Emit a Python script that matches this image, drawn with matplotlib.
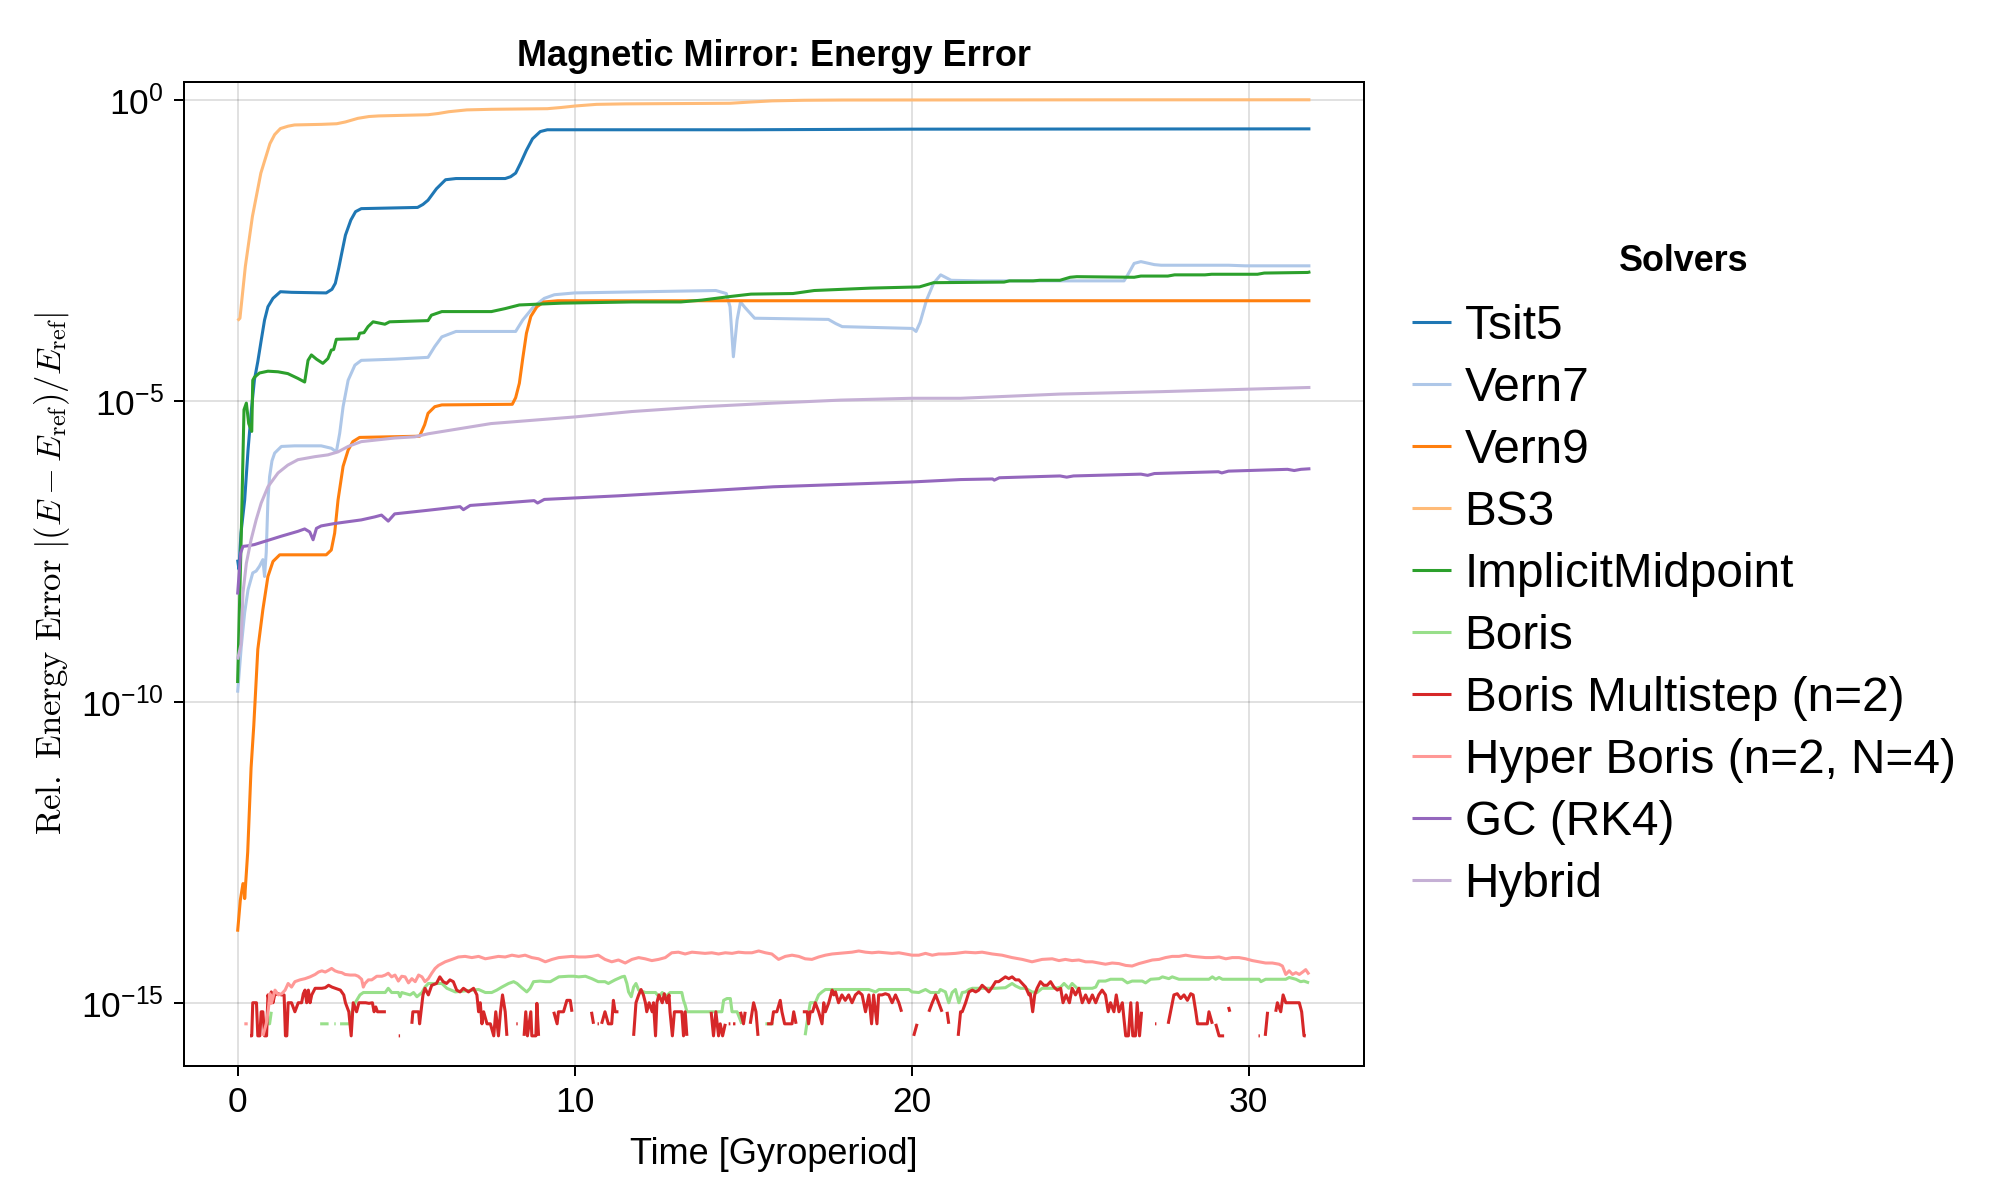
import numpy as np
import matplotlib
matplotlib.use("Agg")
import matplotlib.pyplot as plt
from matplotlib.ticker import FixedLocator, FixedFormatter, NullLocator

nan = float("nan")

plt.rcParams['font.family'] = ['Liberation Sans', 'DejaVu Sans']
plt.rcParams['mathtext.fontset'] = 'cm'

# ---------------- data (time in gyroperiods, log10 of relative energy error) ----------------
solvers = ["Tsit5", "Vern7", "Vern9", "BS3", "ImplicitMidpoint", "Boris",
           "Boris Multistep (n=2)", "Hyper Boris (n=2, N=4)", "GC (RK4)", "Hybrid"]
colors = ["#1f77b4", "#aec7e8", "#ff7f0e", "#ffbb78", "#2ca02c", "#98df8a",
          "#d62728", "#ff9896", "#9467bd", "#c5b0d5"]

tsit5_t = [0.0, 0.04, 0.1, 0.21, 0.31, 0.41, 0.5, 0.6, 0.7, 0.8, 0.9, 1.05, 1.27, 1.6, 2.63, 2.8, 2.9,
           3.0, 3.09, 3.2, 3.36, 3.5, 3.67, 5.34, 5.5, 5.65, 5.9, 6.17, 6.48, 7.94, 8.1, 8.25, 8.4,
           8.57, 8.75, 8.98, 9.19, 15.0, 20.0, 31.83]
tsit5_log10 = [-7.64, -7.8, -7.2, -6.65, -5.82, -5.15, -4.65, -4.35, -4.0, -3.66, -3.44, -3.3, -3.19,
               -3.2, -3.21, -3.15, -3.05, -2.8, -2.55, -2.25, -2.0, -1.86, -1.81, -1.79, -1.74, -1.67,
               -1.48, -1.33, -1.31, -1.31, -1.28, -1.22, -1.05, -0.84, -0.65, -0.53, -0.50, -0.50,
               -0.49, -0.485]

vern7_t = [0.0, 0.11, 0.21, 0.31, 0.45, 0.55, 0.65, 0.75, 0.8, 0.85, 0.9, 0.95, 1.02, 1.1, 1.3, 1.69,
           2.48, 2.78, 2.93, 3.03, 3.13, 3.28, 3.48, 3.67, 4.66, 5.65, 5.85, 6.06, 6.48, 8.25, 8.46,
           8.78, 9.1, 9.4, 10.0, 14.19, 14.5, 14.61, 14.71, 14.82, 14.92, 15.05, 15.34, 17.53, 17.75,
           17.94, 20.02, 20.13, 20.25, 20.44, 20.65, 20.86, 21.17, 22.0, 26.3, 26.4, 26.6, 26.8, 27.2,
           27.4, 29.4, 29.9, 31.83]
vern7_log10 = [-9.85, -9.08, -8.52, -8.14, -7.86, -7.83, -7.75, -7.64, -7.92, -7.52, -6.65, -6.26,
               -6.0, -5.87, -5.76, -5.75, -5.75, -5.79, -5.85, -5.54, -5.1, -4.66, -4.41, -4.33,
               -4.31, -4.28, -4.1, -3.94, -3.85, -3.85, -3.66, -3.44, -3.3, -3.24, -3.21, -3.17,
               -3.22, -3.44, -4.27, -3.66, -3.36, -3.45, -3.63, -3.65, -3.72, -3.77, -3.80, -3.85,
               -3.7, -3.33, -3.05, -2.91, -3.0, -3.01, -3.01, -2.92, -2.72, -2.69, -2.74, -2.75,
               -2.75, -2.76, -2.76]

vern9_t = [0.0, 0.08, 0.16, 0.2, 0.21, 0.3, 0.4, 0.48, 0.6, 0.75, 0.9, 1.05, 1.25, 2.63, 2.78, 2.88,
           2.98, 3.13, 3.28, 3.42, 3.62, 5.4, 5.55, 5.65, 5.85, 6.06, 8.15, 8.25, 8.36, 8.46, 8.57,
           8.7, 8.88, 9.09, 9.5, 31.83]
vern9_log10 = [-13.82, -13.3, -13.02, -13.05, -13.27, -12.5, -11.1, -10.4, -9.13, -8.47, -7.92,
               -7.67, -7.56, -7.56, -7.48, -7.2, -6.65, -6.09, -5.82, -5.68, -5.61, -5.59, -5.4,
               -5.21, -5.1, -5.07, -5.06, -4.95, -4.71, -4.3, -3.88, -3.6, -3.44, -3.36, -3.34, -3.34]

bs3_t = [0.0, 0.07, 0.23, 0.44, 0.69, 0.96, 1.1, 1.27, 1.5, 1.69, 2.5, 2.94, 3.2, 3.57, 3.9, 4.19,
         5.65, 5.95, 6.27, 6.8, 7.53, 9.19, 9.6, 10.02, 10.65, 11.5, 14.61, 15.2, 15.86, 16.8,
         17.94, 25.0, 31.83]
bs3_log10 = [-3.67, -3.63, -2.77, -1.94, -1.22, -0.73, -0.58, -0.48, -0.44, -0.42, -0.41, -0.40,
             -0.37, -0.31, -0.28, -0.27, -0.25, -0.23, -0.20, -0.17, -0.16, -0.15, -0.13, -0.105,
             -0.078, -0.07, -0.06, -0.04, -0.02, -0.01, -0.006, -0.003, -0.002]

midpoint_t = [0.0, 0.11, 0.19, 0.26, 0.33, 0.42, 0.45, 0.5, 0.65, 0.9, 1.2, 1.49, 1.79, 1.99, 2.09,
              2.19, 2.34, 2.53, 2.68, 2.78, 2.85, 2.93, 3.57, 3.62, 3.75, 3.87, 4.02, 4.37, 4.51,
              5.65, 5.75, 6.06, 7.53, 7.94, 8.36, 9.61, 11.69, 13.15, 13.77, 14.61, 15.23, 16.48,
              17.11, 18.78, 20.23, 20.65, 22.74, 22.9, 23.6, 23.8, 24.4, 24.7, 24.9, 26.6, 26.8,
              27.6, 27.8, 28.7, 28.9, 30.26, 30.46, 31.75, 31.83]
midpoint_log10 = [-9.69, -7.2, -5.15, -5.04, -5.38, -5.51, -4.66, -4.61, -4.54, -4.51, -4.52, -4.55,
                  -4.63, -4.69, -4.33, -4.24, -4.31, -4.38, -4.3, -4.16, -4.15, -3.98, -3.97, -3.88,
                  -3.87, -3.77, -3.69, -3.73, -3.69, -3.67, -3.58, -3.52, -3.52, -3.47, -3.41,
                  -3.38, -3.36, -3.36, -3.33, -3.27, -3.23, -3.22, -3.17, -3.13, -3.11, -3.04,
                  -3.03, -3.01, -3.01, -3.0, -3.0, -2.95, -2.94, -2.95, -2.93, -2.93, -2.91, -2.91,
                  -2.9, -2.9, -2.88, -2.87, -2.86]

boris_t = [0.75, 0.95, 1.0, 1.1, 2.45, 2.7, 2.8, 2.87, 2.91, 2.95, 3.04, 3.34, 3.39, 3.49, 3.63,
           3.73, 4.38, 4.47, 4.57, 4.77, 4.82, 4.87, 5.12, 5.22, 5.32, 5.47, 5.56, 5.66, 6.06, 6.21,
           6.46, 7.15, 7.35, 7.54, 7.69, 7.84, 8.04, 8.19, 8.29, 8.43, 8.58, 8.68, 8.78, 8.98, 9.13,
           9.28, 9.53, 9.82, 9.97, 10.12, 10.32, 10.51, 10.7, 10.9, 11.0, 11.2, 11.4, 11.48, 11.55,
           11.6, 11.68, 11.75, 11.82, 11.9, 12.1, 12.4, 12.5, 12.6, 12.7, 12.83, 13.18, 13.23,
           13.28, 13.33, 14.02, 14.37, 14.42, 14.52, 14.62, 14.67, 14.82, 14.96, 15.2, 15.66,
           15.9, 16.2, 16.84, 16.89, 16.99, 17.14, 17.24, 17.34, 17.44, 18.73, 18.93, 19.03,
           19.92, 20.01, 20.21, 20.41, 20.56, 20.8, 20.85, 21.0, 21.1, 21.2, 21.3, 21.4, 21.5,
           21.6, 21.7, 21.8, 22.49, 22.78, 22.98, 23.08, 23.23, 23.38, 23.57, 23.72, 23.87, 24.27,
           24.42, 24.52, 24.66, 24.76, 24.91, 25.36, 25.46, 25.55, 25.75, 25.9, 26.25, 26.4,
           26.54, 26.84, 26.94, 27.09, 27.34, 27.44, 27.63, 27.73, 27.93, 28.82, 28.92, 29.02,
           29.12, 29.22, 30.31, 30.36, 30.5, 31.1, 31.2, 31.4, 31.54, 31.64, 31.79]
boris_log10 = [-15.35, -15.35, -15.15, nan, -15.35, -15.35, nan, -15.35, -15.35, nan, -15.35,
               -15.35, -15.15, -15.0, -14.87, -14.83, -14.83, -14.76, -14.83, -14.83, -14.9,
               -14.83, -14.87, -14.83, -14.9, -14.83, -14.74, -14.68, -14.68, -14.76, -14.82,
               -14.78, -14.83, -14.83, -14.79, -14.74, -14.68, -14.65, -14.68, -14.75, -14.82,
               -14.76, -14.65, -14.64, -14.65, -14.65, -14.57, -14.56, -14.56, -14.57, -14.56,
               -14.6, -14.65, -14.65, -14.68, -14.62, -14.57, -14.56, -14.68, -14.82, -14.9,
               -14.74, -14.68, -14.79, -14.83, -14.83, -14.9, -14.83, -14.9, -14.83, -14.83,
               -14.96, -15.04, -15.15, -15.15, -15.15, -14.96, -14.93, -14.93, -15.15, -15.15,
               -15.35, nan, -15.35, -15.35, nan, -15.54, -15.35, -15.0, -15.0, -14.87, -14.82,
               -14.78, -14.78, -14.82, -14.78, -14.78, -14.82, -14.83, -14.78, -14.83, -14.83,
               -14.78, -14.82, -15.0, -14.83, -14.78, -15.0, -14.83, -14.82, -14.78, -14.76,
               -14.76, -14.75, -14.68, -14.72, -14.76, -14.76, -14.82, -14.83, -14.76, -14.76,
               -14.74, -14.68, -14.76, -14.68, -14.76, -14.76, -14.74, -14.64, -14.64, -14.61,
               -14.61, -14.67, -14.64, -14.64, -14.67, -14.61, -14.6, -14.57, -14.6, -14.57,
               -14.61, -14.61, -14.57, -14.61, -14.58, -14.61, -14.61, -14.65, -14.61, -14.61,
               -14.58, -14.61, -14.65, -14.64, -14.67]

multistep_t = [0.37, 0.42, 0.45, 0.56, 0.6, 0.66, 0.7, 0.75, 0.8, 0.86, 0.9, 0.95, 1.0, 1.05, 1.1,
               1.2, 1.3, 1.38, 1.42, 1.46, 1.5, 1.6, 1.7, 1.8, 1.9, 1.95, 2.0, 2.05, 2.1, 2.15, 2.2,
               2.3, 2.4, 2.5, 2.6, 2.7, 2.8, 2.9, 3.05, 3.15, 3.2, 3.3, 3.37, 3.43, 3.53, 3.6, 3.7,
               3.8, 3.9, 4.0, 4.05, 4.1, 4.15, 4.3, 4.4, 4.6, 4.78, 4.82, 5.0, 5.17, 5.2, 5.37, 5.4,
               5.5, 5.56, 5.66, 5.76, 5.9, 6.0, 6.1, 6.2, 6.3, 6.4, 6.5, 6.6, 6.7, 6.85, 7.0, 7.1,
               7.15, 7.2, 7.25, 7.3, 7.4, 7.5, 7.6, 7.66, 7.74, 7.8, 7.86, 7.94, 7.99, 8.1, 8.27,
               8.31, 8.4, 8.5, 8.55, 8.6, 8.7, 8.73, 8.85, 8.88, 8.93, 9.1, 9.38, 9.48, 9.52, 9.67,
               9.77, 9.87, 9.92, 10.2, 10.5, 10.56, 10.6, 10.68, 10.72, 10.75, 10.8, 10.9, 11.0,
               11.1, 11.15, 11.2, 11.3, 11.5, 11.75, 11.82, 11.9, 11.97, 12.04, 12.1, 12.14, 12.21,
               12.3, 12.34, 12.4, 12.44, 12.5, 12.6, 12.66, 12.74, 12.8, 12.83, 12.9, 12.96, 13.1,
               13.18, 13.23, 13.28, 13.33, 13.7, 14.05, 14.12, 14.19, 14.27, 14.32, 14.39, 14.47,
               14.52, 14.57, 14.62, 14.65, 14.7, 14.77, 14.85, 14.92, 15.01, 15.06, 15.12, 15.21,
               15.31, 15.38, 15.44, 15.6, 15.71, 15.85, 15.9, 16.0, 16.1, 16.15, 16.23, 16.35,
               16.45, 16.5, 16.57, 16.67, 16.77, 16.9, 16.94, 16.99, 17.06, 17.14, 17.24, 17.34,
               17.39, 17.44, 17.54, 17.64, 17.69, 17.74, 17.83, 17.93, 18.03, 18.13, 18.23, 18.33,
               18.43, 18.53, 18.63, 18.73, 18.81, 18.87, 18.97, 19.02, 19.12, 19.22, 19.32, 19.42,
               19.52, 19.62, 19.7, 19.85, 20.06, 20.16, 20.3, 20.51, 20.61, 20.71, 20.8, 20.9,
               20.97, 21.05, 21.1, 21.2, 21.38, 21.45, 21.5, 21.6, 21.7, 21.8, 21.9, 21.99, 22.09,
               22.19, 22.29, 22.39, 22.49, 22.58, 22.68, 22.78, 22.88, 22.98, 23.08, 23.18, 23.28,
               23.38, 23.48, 23.52, 23.59, 23.65, 23.72, 23.82, 23.92, 24.02, 24.12, 24.22, 24.32,
               24.42, 24.49, 24.58, 24.68, 24.76, 24.86, 24.96, 25.06, 25.16, 25.26, 25.36, 25.46,
               25.55, 25.65, 25.75, 25.83, 25.9, 26.0, 26.07, 26.15, 26.25, 26.35, 26.43, 26.5,
               26.56, 26.64, 26.69, 26.76, 26.82, 27.0, 27.22, 27.26, 27.4, 27.61, 27.68, 27.78,
               27.88, 27.98, 28.08, 28.18, 28.28, 28.35, 28.43, 28.48, 28.57, 28.67, 28.77, 28.82,
               28.92, 28.97, 29.02, 29.12, 29.27, 29.35, 29.4, 29.44, 29.6, 30.29, 30.33, 30.4,
               30.49, 30.56, 30.7, 30.8, 30.85, 30.95, 31.02, 31.1, 31.3, 31.5, 31.57, 31.64, 31.69]
multistep_log10 = [-15.55, -15.55, -15.0, -15.0, -15.55, -15.55, -15.15, -15.15, -15.55, -15.55,
                   -14.87, -15.0, -14.82, -15.0, -14.87, -14.85, -14.87, -14.87, -15.55, -15.55,
                   -15.0, -15.0, -15.15, -15.0, -15.0, -14.85, -14.79, -15.0, -14.79, -15.0,
                   -14.87, -14.76, -14.76, -14.76, -14.75, -14.71, -14.74, -14.76, -14.79, -14.87,
                   -15.0, -15.15, -15.55, -15.0, -15.15, -15.0, -15.0, -15.0, -15.01, -15.0,
                   -15.15, -15.07, -15.15, -15.15, -15.15, nan, -15.55, -15.55, nan, -15.35,
                   -15.15, -15.15, -15.35, -14.87, -14.76, -14.87, -14.71, -14.68, -14.57, -14.65,
                   -14.68, -14.62, -14.65, -14.79, -14.82, -14.76, -14.82, -14.76, -14.87, -15.15,
                   -15.0, -15.35, -15.15, -15.35, -15.35, -15.55, -15.15, -15.55, -15.15, -14.87,
                   -15.15, -15.55, nan, -15.35, -15.35, nan, -15.55, -15.15, -15.55, -15.15,
                   -15.55, -15.55, -15.01, -15.55, nan, -15.15, -15.35, -15.15, -15.15, -14.96,
                   -14.96, -15.15, nan, -15.15, -15.35, nan, -15.35, -15.35, nan, -15.35, -15.15,
                   -15.35, -15.35, -14.96, -15.15, -15.15, nan, -15.55, -15.0, -14.87, -14.78,
                   -14.87, -15.0, -15.15, -15.0, -15.15, -15.0, -15.55, -15.0, -14.87, -15.0,
                   -14.85, -15.0, -14.87, -15.15, -15.55, -15.15, -15.15, -15.15, -15.55, -15.15,
                   -15.55, nan, -15.15, -15.55, -15.15, -15.55, -15.35, -15.55, -15.35, nan,
                   -15.35, -15.35, nan, -15.35, -15.35, nan, -15.15, -15.35, -15.15, nan, -15.35,
                   -15.0, -15.15, -15.55, nan, -15.35, -15.35, -15.15, -15.15, -14.96, -15.15,
                   -15.35, -15.35, -15.35, -15.15, -15.35, nan, -15.15, -15.15, -15.35, -15.15,
                   -15.15, -15.0, -15.15, -15.35, -15.0, -15.15, -15.0, -14.79, -14.87, -14.82,
                   -15.0, -14.87, -14.96, -14.87, -15.0, -14.87, -14.82, -14.87, -15.15, -14.87,
                   -15.35, -14.87, -15.35, -14.87, -14.87, -14.85, -14.87, -15.0, -14.87, -15.0,
                   -15.15, nan, -15.55, -15.35, nan, -15.15, -15.0, -14.87, -15.0, -15.15, nan,
                   -15.15, -15.35, nan, -15.55, -15.15, -15.15, -15.0, -14.82, -14.79, -14.82,
                   -14.79, -14.71, -14.76, -14.82, -14.74, -14.65, -14.65, -14.61, -14.57, -14.6,
                   -14.57, -14.62, -14.62, -14.68, -14.74, -14.87, -14.85, -15.15, -14.87, -14.76,
                   -14.65, -14.71, -14.71, -14.65, -14.74, -14.79, -14.76, -15.0, -14.87, -15.0,
                   -14.76, -14.87, -14.76, -15.0, -14.87, -15.0, -14.87, -15.0, -14.87, -14.79,
                   -14.87, -15.15, -15.0, -15.15, -14.87, -15.15, -15.0, -15.55, -15.55, -15.0,
                   -15.55, -15.55, -15.0, -15.55, -15.15, nan, -15.35, -15.35, nan, -15.35, -15.15,
                   -14.87, -14.85, -14.93, -14.87, -14.96, -14.85, -14.87, -15.15, -15.35, -15.35,
                   -15.35, -15.35, -15.15, -15.35, nan, -15.35, -15.55, -15.55, nan, -15.07,
                   -15.15, nan, -15.55, -15.55, nan, -15.55, -15.15, nan, -15.15, -15.0, -15.15,
                   -14.87, -15.0, -15.0, -15.0, -15.15, -15.55, -15.55]

hyper_t = [0.2, 0.3, 0.5, 0.75, 0.85, 0.91, 0.96, 1.0, 1.11, 1.21, 1.31, 1.41, 1.5, 1.6, 1.7, 1.85,
           2.0, 2.15, 2.3, 2.4, 2.5, 2.6, 2.7, 2.79, 2.89, 2.99, 3.09, 3.19, 3.34, 3.49, 3.58, 3.68,
           3.73, 3.78, 3.88, 3.98, 4.13, 4.28, 4.38, 4.47, 4.57, 4.67, 4.77, 4.87, 4.97, 5.07,
           5.17, 5.27, 5.37, 5.47, 5.56, 5.66, 5.76, 5.86, 5.96, 6.16, 6.36, 6.55, 6.75, 6.95,
           7.15, 7.35, 7.54, 7.74, 7.94, 8.14, 8.34, 8.53, 8.73, 8.93, 9.13, 9.33, 9.53, 9.72,
           9.92, 10.12, 10.32, 10.51, 10.7, 10.9, 11.1, 11.3, 11.5, 11.7, 11.9, 12.09, 12.29,
           12.49, 12.69, 12.88, 13.08, 13.28, 13.48, 13.68, 13.87, 14.07, 14.27, 14.47, 14.67,
           14.86, 15.06, 15.26, 15.46, 15.66, 15.85, 16.05, 16.25, 16.45, 16.65, 16.84, 17.04,
           17.24, 17.44, 17.64, 17.83, 18.03, 18.23, 18.43, 18.63, 18.82, 19.02, 19.22, 19.42,
           19.62, 19.81, 20.01, 20.21, 20.41, 20.61, 20.8, 21.0, 21.3, 21.59, 21.89, 22.09,
           22.39, 22.68, 22.98, 23.28, 23.57, 23.87, 24.17, 24.37, 24.56, 24.76, 24.96, 25.16,
           25.36, 25.55, 25.75, 25.95, 26.15, 26.35, 26.54, 26.74, 26.94, 27.14, 27.34, 27.53,
           27.73, 27.93, 28.13, 28.33, 28.52, 28.72, 28.92, 29.12, 29.32, 29.51, 29.71, 29.91,
           30.11, 30.31, 30.5, 30.7, 30.9, 31.0, 31.1, 31.2, 31.3, 31.4, 31.5, 31.6, 31.69, 31.79]
hyper_log10 = [-15.35, -15.35, nan, -15.55, -15.35, -15.12, -14.85, -15.01, -14.79, -14.87, -14.85,
               -14.79, -14.68, -14.74, -14.65, -14.62, -14.6, -14.57, -14.53, -14.49, -14.47,
               -14.49, -14.46, -14.43, -14.47, -14.49, -14.5, -14.53, -14.54, -14.54, -14.56,
               -14.61, -14.74, -14.68, -14.62, -14.62, -14.56, -14.56, -14.54, -14.51, -14.57,
               -14.54, -14.64, -14.56, -14.57, -14.67, -14.6, -14.65, -14.54, -14.57, -14.65,
               -14.6, -14.51, -14.43, -14.38, -14.32, -14.28, -14.24, -14.23, -14.25, -14.23,
               -14.27, -14.25, -14.23, -14.24, -14.21, -14.23, -14.21, -14.25, -14.27, -14.32,
               -14.28, -14.25, -14.24, -14.23, -14.24, -14.24, -14.23, -14.21, -14.28, -14.32,
               -14.29, -14.34, -14.28, -14.25, -14.27, -14.3, -14.28, -14.25, -14.17, -14.16,
               -14.19, -14.16, -14.17, -14.18, -14.17, -14.19, -14.17, -14.18, -14.16, -14.17,
               -14.17, -14.14, -14.17, -14.19, -14.28, -14.23, -14.21, -14.23, -14.27, -14.28,
               -14.24, -14.21, -14.19, -14.18, -14.17, -14.16, -14.14, -14.16, -14.17, -14.16,
               -14.17, -14.18, -14.17, -14.19, -14.21, -14.21, -14.18, -14.21, -14.19, -14.19,
               -14.18, -14.16, -14.17, -14.16, -14.19, -14.21, -14.25, -14.28, -14.32, -14.28,
               -14.27, -14.3, -14.28, -14.3, -14.29, -14.32, -14.32, -14.34, -14.36, -14.34,
               -14.35, -14.38, -14.39, -14.35, -14.32, -14.29, -14.28, -14.25, -14.23, -14.23,
               -14.21, -14.23, -14.24, -14.25, -14.25, -14.24, -14.27, -14.25, -14.25, -14.27,
               -14.3, -14.32, -14.34, -14.34, -14.36, -14.39, -14.53, -14.47, -14.53, -14.5,
               -14.53, -14.49, -14.45, -14.53]

gc_t = [0.0, 0.09, 0.16, 0.31, 0.5, 0.9, 1.3, 1.79, 1.99, 2.14, 2.24, 2.34, 2.48, 2.88, 3.67, 4.07,
        4.27, 4.47, 4.66, 5.65, 6.6, 6.7, 6.9, 8.8, 8.9, 9.1, 11.3, 13.8, 15.9, 20.0, 21.45, 22.4,
        22.45, 22.6, 24.4, 24.6, 24.8, 26.8, 27.0, 27.2, 29.1, 29.2, 29.4, 31.15, 31.35, 31.55, 31.83]
gc_log10 = [-8.22, -7.53, -7.42, -7.41, -7.39, -7.32, -7.25, -7.17, -7.13, -7.18, -7.31, -7.12,
            -7.08, -7.04, -6.98, -6.93, -6.9, -7.0, -6.88, -6.82, -6.76, -6.81, -6.74, -6.66,
            -6.7, -6.64, -6.58, -6.5, -6.43, -6.35, -6.31, -6.3, -6.32, -6.28, -6.25, -6.27,
            -6.25, -6.22, -6.24, -6.21, -6.18, -6.2, -6.17, -6.14, -6.16, -6.14, -6.13]

hybrid_t = [0.0, 0.1, 0.16, 0.26, 0.4, 0.55, 0.7, 0.9, 1.2, 1.49, 1.79, 2.29, 2.68, 2.98, 3.28,
            3.67, 4.66, 5.26, 5.65, 7.52, 10.0, 11.7, 13.8, 15.9, 17.9, 20.0, 21.45, 24.4, 27.4,
            29.9, 31.83]
hybrid_log10 = [-9.3, -9.05, -8.19, -7.7, -7.31, -6.98, -6.7, -6.43, -6.2, -6.07, -5.98, -5.93,
                -5.9, -5.85, -5.76, -5.68, -5.62, -5.6, -5.55, -5.38, -5.27, -5.18, -5.1, -5.04,
                -4.99, -4.96, -4.96, -4.89, -4.85, -4.81, -4.78]

x_ticks = [0, 10, 20, 30]
y_ticks = [1e-15, 1e-10, 1e-5, 1e0]
y_tick_labels = [r"$\mathdefault{10^{-15}}$", r"$\mathdefault{10^{-10}}$",
                 r"$\mathdefault{10^{-5}}$", r"$\mathdefault{10^{0}}$"]

series_t = [tsit5_t, vern7_t, vern9_t, bs3_t, midpoint_t, boris_t, multistep_t, hyper_t, gc_t, hybrid_t]
series_log10 = [tsit5_log10, vern7_log10, vern9_log10, bs3_log10, midpoint_log10, boris_log10,
                multistep_log10, hyper_log10, gc_log10, hybrid_log10]

# ---------------- figure ----------------
fig = plt.figure(figsize=(20, 12), dpi=100)
ax = fig.add_axes([0.092, 0.1117, 0.59, 0.8203])

handles = []
for name, col, t, lg in zip(solvers, colors, series_t, series_log10):
    y = np.power(10.0, np.asarray(lg, dtype=float))
    h, = ax.plot(np.asarray(t, dtype=float), y, color=col, lw=2.2, label=name,
                 solid_joinstyle='round', solid_capstyle='butt')
    handles.append(h)

ax.set_yscale('log')
ax.set_xlim(-1.59, 33.42)
ax.set_ylim(10 ** -16.05, 10 ** 0.3)
ax.xaxis.set_major_locator(FixedLocator(x_ticks))
ax.yaxis.set_major_locator(FixedLocator(y_ticks))
ax.yaxis.set_major_formatter(FixedFormatter(y_tick_labels))
ax.yaxis.set_minor_locator(NullLocator())
ax.xaxis.set_minor_locator(NullLocator())

ax.grid(True, which='major', color='black', alpha=0.12, lw=1.4)
ax.set_axisbelow(True)
for s in ax.spines.values():
    s.set_linewidth(1.44)
ax.tick_params(direction='out', length=7.2, width=1.44, labelsize=25.5, pad=7.5)

ax.set_title("Magnetic Mirror: Energy Error", fontsize=26, fontweight='bold', pad=11.5)
ax.set_xlabel("Time [Gyroperiod]", fontsize=26, labelpad=13)
ax.set_ylabel(r"$\mathrm{Rel.\ Energy\ Error}\ |(E - E_{\mathrm{ref}})/E_{\mathrm{ref}}|$",
              fontsize=25, labelpad=6.5)

leg = fig.legend(handles, solvers, loc='upper left', bbox_to_anchor=(0.706, 0.7967), frameon=False,
                 fontsize=34.4, title='Solvers', title_fontproperties={'weight': 'bold', 'size': 25.8},
                 handlelength=0.82, handletextpad=0.28, labelspacing=0.356, borderpad=0,
                 borderaxespad=0)
leg._legend_box.sep = 18.0

fig.savefig("out.png", dpi=100)
